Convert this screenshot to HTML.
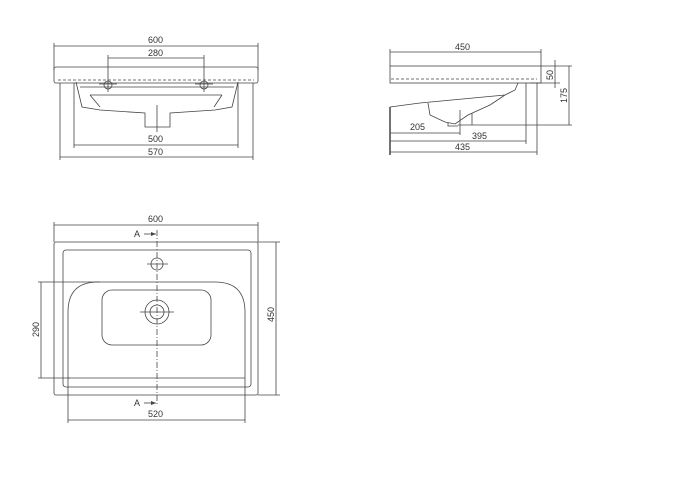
<!DOCTYPE html>
<html><head><style>body{margin:0;background:#fff}svg{display:block}text{font-family:"Liberation Sans",sans-serif;font-size:9px;fill:#333}</style></head>
<body>
<svg width="693" height="477" viewBox="0 0 693 477" fill="none" stroke="#444" stroke-width="0.8">
<!-- FRONT VIEW -->
<g>
<line x1="54" y1="46" x2="258" y2="46"/><line x1="54" y1="43" x2="54" y2="70"/><line x1="258" y1="43" x2="258" y2="70"/>
<text x="148" y="43" stroke="none">600</text>
<line x1="108" y1="58" x2="204" y2="58"/><line x1="108" y1="55" x2="108" y2="92"/><line x1="204" y1="55" x2="204" y2="92"/>
<text x="148" y="56" stroke="none">280</text>
<rect x="54" y="67" width="204" height="16" rx="2"/>
<line x1="58" y1="80" x2="254" y2="80" stroke-dasharray="3,2"/>
<path d="M76 82 L82 107 L100 110 L145 113 L145 127 L170 127 L170 113 L215 110 L232 107 L238 82"/>
<path d="M80 87 L234 87 M90 95 L100 107 M222 95 L214 107 M90 95 L222 95"/>
<circle cx="108" cy="85" r="4"/><circle cx="204" cy="85" r="4"/>
<line x1="99" y1="84" x2="117" y2="84"/><line x1="195" y1="84" x2="213" y2="84"/>
<line x1="157" y1="105" x2="157" y2="132"/>
<line x1="74" y1="83" x2="74" y2="148"/><line x1="238" y1="83" x2="238" y2="148"/>
<line x1="74" y1="145" x2="238" y2="145"/><text x="148" y="142" stroke="none">500</text>
<line x1="60" y1="83" x2="60" y2="160"/><line x1="253" y1="83" x2="253" y2="160"/>
<line x1="60" y1="157" x2="253" y2="157"/><text x="148" y="155" stroke="none">570</text>
</g>
<!-- SIDE VIEW -->
<g>
<line x1="390" y1="52" x2="541" y2="52"/><line x1="390" y1="49" x2="390" y2="66"/><line x1="541" y1="49" x2="541" y2="66"/>
<text x="455" y="50" stroke="none">450</text>
<rect x="390" y="66" width="151" height="17"/>
<line x1="391" y1="79" x2="537" y2="79" stroke-dasharray="3,2"/>
<path d="M390 107 L420 103 L505 95 L515 90 L518 83"/>
<path d="M428 103 L430 115 L445 122 L455 124 L468 115 L490 105 L505 95"/>
<path d="M448 123 L448 126 L458 126 M472 113 L472 125"/>
<line x1="460" y1="110" x2="460" y2="135"/>
<line x1="541" y1="66" x2="572" y2="66"/><line x1="530" y1="83" x2="560" y2="83"/>
<line x1="555" y1="60" x2="555" y2="88"/><text transform="translate(553,80) rotate(-90)" stroke="none">50</text>
<line x1="569" y1="66" x2="569" y2="125"/><line x1="458" y1="125" x2="572" y2="125"/>
<text transform="translate(567,103) rotate(-90)" stroke="none">175</text>
<line x1="390" y1="107" x2="390" y2="155" stroke-width="1.5"/>
<line x1="390" y1="133" x2="460" y2="133"/><text x="410" y="130" stroke="none">205</text>
<line x1="526" y1="83" x2="526" y2="144"/><line x1="390" y1="141" x2="526" y2="141"/><text x="472" y="139" stroke="none">395</text>
<line x1="537" y1="83" x2="537" y2="155"/><line x1="390" y1="152" x2="537" y2="152"/><text x="455" y="150" stroke="none">435</text>
</g>
<!-- PLAN VIEW -->
<g>
<line x1="54" y1="225" x2="258" y2="225"/><line x1="54" y1="222" x2="54" y2="242"/><line x1="258" y1="222" x2="258" y2="242"/>
<text x="148" y="222" stroke="none">600</text>
<rect x="54" y="242" width="204" height="153" rx="2"/>
<rect x="63" y="250" width="188" height="137" rx="3"/>
<path d="M68 378 L68 312 Q68 282 98 282 L215 282 Q245 282 245 312 L245 378"/>
<line x1="68" y1="378" x2="245" y2="378"/>
<rect x="102" y="290" width="109" height="55" rx="10"/>
<circle cx="157" cy="312" r="12"/><circle cx="157" cy="312" r="7"/>
<line x1="140" y1="312" x2="174" y2="312"/>
<circle cx="157" cy="264" r="6"/><line x1="147" y1="264" x2="168" y2="264"/>
<line x1="157" y1="230" x2="157" y2="405" stroke-dasharray="6,2,1,2"/>
<text x="134" y="237" stroke="none">A</text><line x1="144" y1="234" x2="156" y2="234"/><path d="M151 232 L156 234 L151 236" stroke="none" fill="#444"/>
<text x="134" y="406" stroke="none">A</text><line x1="144" y1="403" x2="156" y2="403"/><path d="M151 401 L156 403 L151 405" stroke="none" fill="#444"/>
<line x1="258" y1="242" x2="280" y2="242"/><line x1="258" y1="395" x2="280" y2="395"/>
<line x1="276" y1="242" x2="276" y2="395"/><text transform="translate(274,322) rotate(-90)" stroke="none">450</text>
<line x1="38" y1="282" x2="100" y2="282"/><line x1="38" y1="378" x2="70" y2="378"/>
<line x1="41" y1="282" x2="41" y2="378"/><text transform="translate(39,337) rotate(-90)" stroke="none">290</text>
<line x1="68" y1="378" x2="68" y2="423"/><line x1="245" y1="378" x2="245" y2="423"/>
<line x1="68" y1="420" x2="245" y2="420"/><text x="148" y="417" stroke="none">520</text>
</g>
</svg>
</body></html>
